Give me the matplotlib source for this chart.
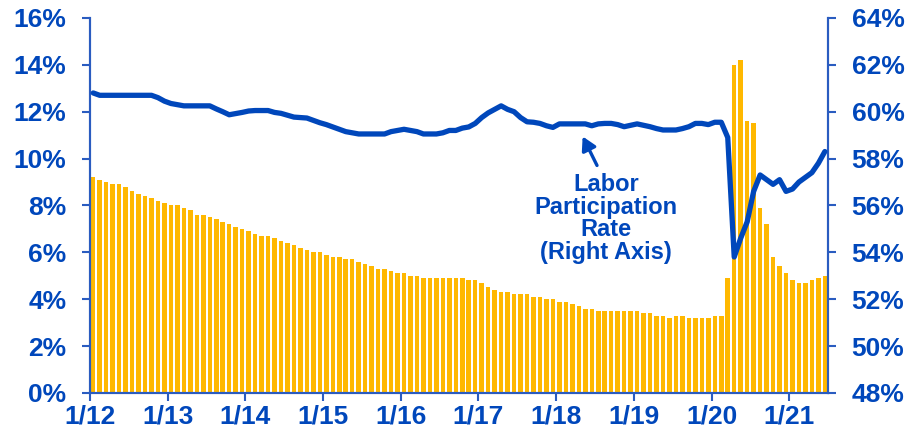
import numpy as np
import matplotlib
matplotlib.use("Agg")
import matplotlib.pyplot as plt

# Monthly data, Jan 2012 .. Jun 2021
unemployment = [
    9.2, 9.1, 9.0, 8.9, 8.9, 8.8, 8.6, 8.5, 8.4, 8.3, 8.2, 8.1,
    8.0, 8.0, 7.9, 7.8, 7.6, 7.6, 7.5, 7.4, 7.3, 7.2, 7.1, 7.0,
    6.9, 6.8, 6.7, 6.7, 6.6, 6.5, 6.4, 6.3, 6.2, 6.1, 6.0, 6.0,
    5.9, 5.8, 5.8, 5.7, 5.7, 5.6, 5.5, 5.4, 5.3, 5.3, 5.2, 5.1,
    5.1, 5.0, 5.0, 4.9, 4.9, 4.9, 4.9, 4.9, 4.9, 4.9, 4.8, 4.8,
    4.7, 4.5, 4.4, 4.3, 4.3, 4.2, 4.2, 4.2, 4.1, 4.1, 4.0, 4.0,
    3.9, 3.9, 3.8, 3.7, 3.6, 3.6, 3.5, 3.5, 3.5, 3.5, 3.5, 3.5,
    3.5, 3.4, 3.4, 3.3, 3.3, 3.2, 3.3, 3.3, 3.2, 3.2, 3.2, 3.2,
    3.3, 3.3, 4.9, 14.0, 14.2, 11.6, 11.5, 7.9, 7.2, 5.8, 5.4, 5.1,
    4.8, 4.7, 4.7, 4.8, 4.9, 5.0,
]
participation = [
    60.8, 60.7, 60.7, 60.7, 60.7, 60.7, 60.7, 60.7, 60.7, 60.7, 60.6, 60.45,
    60.35, 60.3, 60.25, 60.25, 60.25, 60.25, 60.25, 60.12, 60.0, 59.87, 59.92, 59.97,
    60.03, 60.05, 60.05, 60.05, 59.97, 59.93, 59.85, 59.77, 59.75, 59.73, 59.63, 59.53,
    59.45, 59.35, 59.25, 59.15, 59.1, 59.05, 59.05, 59.05, 59.05, 59.05, 59.15, 59.2,
    59.25, 59.2, 59.15, 59.05, 59.05, 59.05, 59.1, 59.2, 59.2, 59.3, 59.35, 59.5,
    59.75, 59.95, 60.1, 60.25, 60.1, 60.0, 59.75, 59.57, 59.55, 59.5, 59.4, 59.33,
    59.48, 59.48, 59.48, 59.48, 59.48, 59.4, 59.48, 59.5, 59.5, 59.45, 59.36, 59.42,
    59.48, 59.42, 59.36, 59.28, 59.22, 59.22, 59.22, 59.28, 59.36, 59.5, 59.5, 59.45,
    59.55, 59.55, 58.9, 53.8, 54.6, 55.3, 56.6, 57.3, 57.1, 56.9, 57.1, 56.6,
    56.7, 57.0, 57.2, 57.4, 57.8, 58.3,
]
year_labels = ["1/12", "1/13", "1/14", "1/15", "1/16", "1/17", "1/18", "1/19", "1/20", "1/21"]
left_ticks = [0, 2, 4, 6, 8, 10, 12, 14, 16]
right_ticks = [48, 50, 52, 54, 56, 58, 60, 62, 64]

blue = "#0047BB"
gold = "#FFB800"
plt.rcParams["font.family"] = ["Liberation Sans", "DejaVu Sans"]

fig = plt.figure(figsize=(9.09, 4.28), dpi=100)
ax = fig.add_axes([0.099, 0.082, 0.812, 0.876])
ax2 = ax.twinx()

x = np.arange(len(unemployment)) + 0.5
ax.bar(x, unemployment, width=0.7, color=gold, edgecolor="none", zorder=2)
ax2.plot(x, participation, color=blue, lw=3.8, solid_capstyle="round",
         solid_joinstyle="round", zorder=3)

ax.set_xlim(0, len(unemployment))
ax.set_ylim(0, 16)
ax2.set_ylim(48, 64)
ax.set_xticks(np.arange(0, len(unemployment), 12))
ax.set_xticklabels(year_labels)
ax.set_yticks(left_ticks)
ax.set_yticklabels([f"{v}%" for v in left_ticks])
ax2.set_yticks(right_ticks)
ax2.set_yticklabels([f"{v}%" for v in right_ticks])

for a in (ax, ax2):
    a.spines["top"].set_visible(False)
    for s in ("left", "right", "bottom"):
        a.spines[s].set_color("#2A5CC0")
        a.spines[s].set_linewidth(1.5)
    a.tick_params(colors="#2A5CC0", width=1.5, length=6, direction="out",
                  labelcolor=blue, labelsize=19)
    for lbl in a.get_xticklabels() + a.get_yticklabels():
        lbl.set_fontweight("bold")
ax.tick_params(axis="y", pad=11)
ax2.tick_params(axis="y", pad=11)
ax.tick_params(axis="x", pad=2)
ax2.set_zorder(ax.get_zorder() + 1)
ax2.patch.set_visible(False)

ax2.text(79.7, 55.45, "Labor\nParticipation\nRate\n(Right Axis)", ha="center", va="center",
         color=blue, fontsize=17, fontweight="bold", linespacing=0.98)
ax2.annotate("", xy=(75.9, 59.05), xytext=(78.5, 57.6),
             arrowprops=dict(arrowstyle="-|>,head_width=0.45,head_length=0.8",
                             color=blue, lw=2.4))

fig.savefig("out.png", dpi=100)
